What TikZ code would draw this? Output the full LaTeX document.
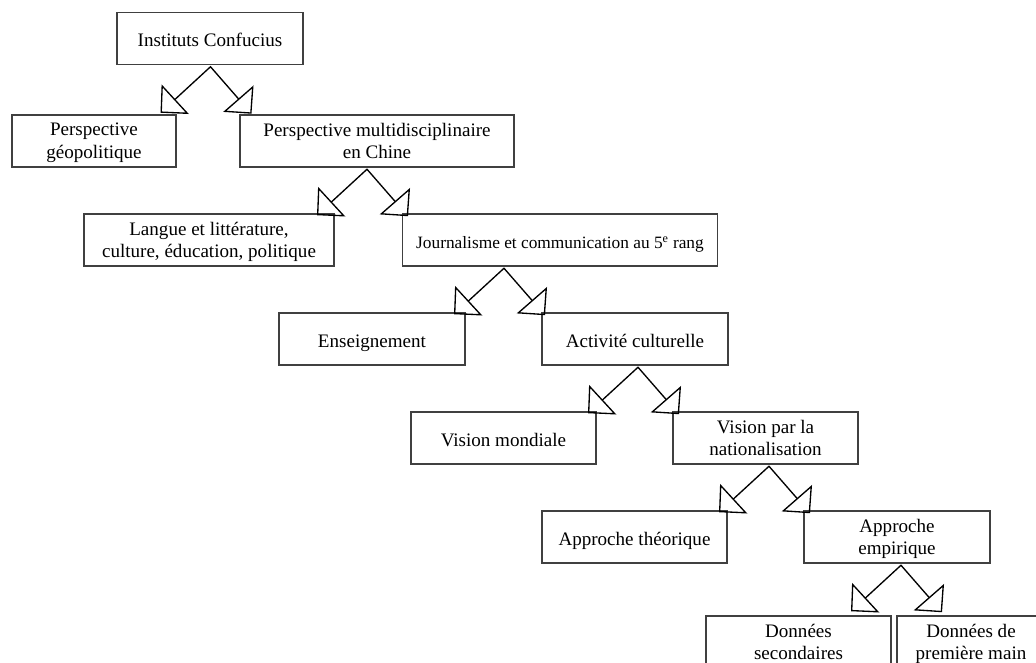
\documentclass[tikz,border=0pt]{standalone}
\usepackage{fontspec}
\setmainfont{Liberation Serif}
\usetikzlibrary{arrows.meta}

\tikzset{
	box/.style={draw=black!75, line width=1.1pt, minimum height=39pt, inner sep=0pt,
		text depth=0pt, align=center, font=\fontsize{14.3}{17}\selectfont},
	oneline/.style={text height=12pt},
	fork/.style={line width=1pt,
		{Triangle[open,length=15pt,width=30pt]}-{Triangle[open,length=15pt,width=30pt]}},
}

\begin{document}
\begin{tikzpicture}[x=0.75pt,y=-0.75pt]
	\useasboundingbox (0,0) rectangle (1036,662);
	% boxes
	\node[box, oneline, minimum width=139.5pt] (inst) at (210,38.5) {Instituts Confucius};
	\node[box, minimum width=123pt] (geo) at (94,141) {Perspective\\g\'eopolitique};
	\node[box, minimum width=205.5pt] (multi) at (377,141) {Perspective multidisciplinaire\\en Chine};
	\node[box, minimum width=187.5pt] (lang) at (209,240) {Langue et litt\'erature,\\culture, \'education, politique};
	\node[box, oneline, minimum width=236.25pt, font=\fontsize{13}{16}\selectfont] (journ) at (560,240) {Journalisme et communication au 5\textsuperscript{e} rang};
	\node[box, oneline, minimum width=139.5pt] (ens) at (372,339) {Enseignement};
	\node[box, oneline, minimum width=139.5pt] (act) at (635,339) {Activit\'e culturelle};
	\node[box, oneline, minimum width=138.75pt] (mond) at (503.5,438) {Vision mondiale};
	\node[box, minimum width=138.75pt] (nat) at (765.5,438) {Vision par la\\nationalisation};
	\node[box, oneline, minimum width=138.75pt] (theo) at (634.5,537) {Approche th\'eorique};
	\node[box, minimum width=139.5pt] (emp) at (897,537) {Approche\\empirique};
	\node[box, minimum width=138.75pt] (sec) at (798.5,642) {Donn\'ees\\secondaires};
	\node[box, minimum width=111pt] (prem) at (971,642) {Donn\'ees de\\premi\`ere main};
	% forks
	\foreach \p/\dx in {inst/0.5, multi/-10, journ/-56, act/3, nat/3.5, emp/4} {
		\coordinate (\p-top) at ([shift={(\dx,1.5)}]\p.south);
		\coordinate (\p-l) at ([shift={(-50,46)}]\p-top);
		\coordinate (\p-r) at ([shift={(41,47)}]\p-top);
		\draw[fork] (\p-l) -- (\p-top) -- (\p-r);
	}
\end{tikzpicture}
\end{document}
